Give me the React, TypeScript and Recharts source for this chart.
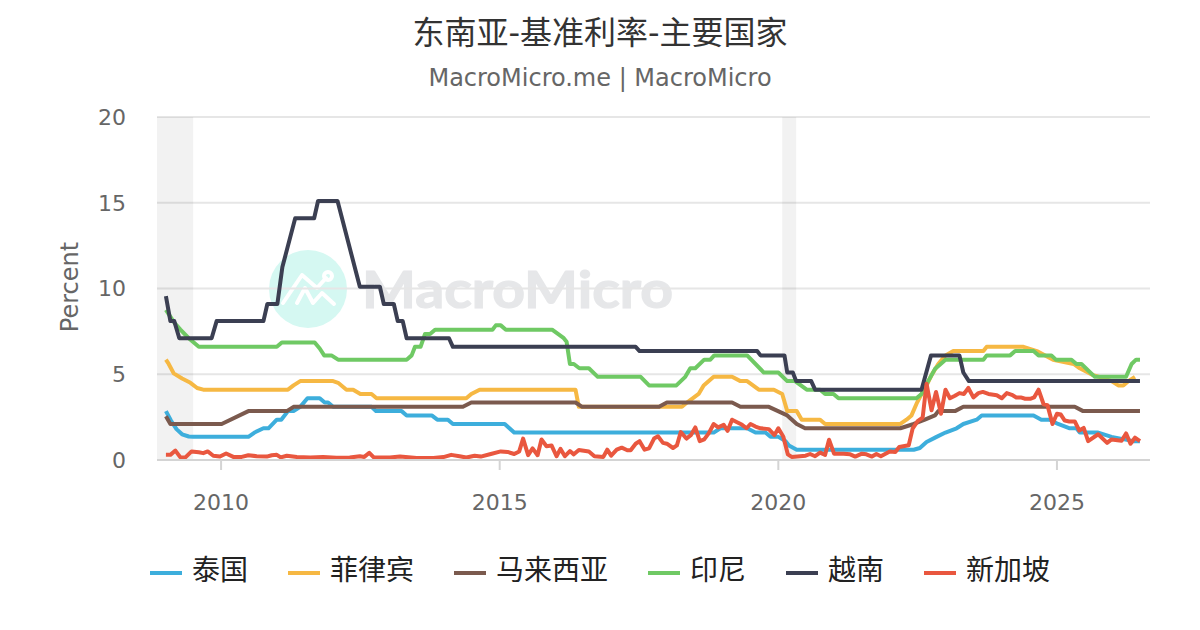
import React from 'react';
import { LineChart, Line, XAxis, YAxis, CartesianGrid, ReferenceArea, Legend } from 'recharts';

const TITLE = '东南亚-基准利率-主要国家';
const SUBTITLE = 'MacroMicro.me | MacroMicro';
const Y_LABEL = 'Percent';
const xTicks = [2010, 2015, 2020, 2025];
const yTicks = [0, 5, 10, 15, 20];
const recessions = [[2008.85, 2009.5], [2020.07, 2020.32]];

const thailand = [[2009.01,2.85],[2009.1,2.3],[2009.2,1.8],[2009.3,1.5],[2009.42,1.37],[2009.5,1.35],[2010.49,1.35],[2010.6,1.6],[2010.76,1.85],[2010.85,1.85],[2011.0,2.35],[2011.08,2.35],[2011.2,2.85],[2011.3,2.85],[2011.42,3.1],[2011.55,3.6],[2011.77,3.6],[2011.86,3.35],[2011.92,3.35],[2012.01,3.1],[2012.7,3.1],[2012.78,2.85],[2013.24,2.85],[2013.33,2.6],[2013.78,2.6],[2013.88,2.35],[2014.07,2.35],[2014.16,2.1],[2015.09,2.1],[2015.26,1.6],[2018.84,1.6],[2018.96,1.85],[2019.44,1.85],[2019.59,1.6],[2019.77,1.6],[2019.86,1.35],[2020.0,1.35],[2020.13,1.1],[2020.19,0.85],[2020.33,0.6],[2022.43,0.6],[2022.54,0.7],[2022.66,1.05],[2022.84,1.35],[2023.0,1.6],[2023.2,1.85],[2023.32,2.1],[2023.56,2.35],[2023.65,2.6],[2024.58,2.6],[2024.72,2.35],[2024.87,2.35],[2025.02,2.1],[2025.23,1.85],[2025.35,1.85],[2025.41,1.6],[2025.74,1.6],[2025.98,1.35],[2026.37,1.1],[2026.49,1.1]];
const philippines = [[2009.01,5.85],[2009.06,5.6],[2009.15,5.05],[2009.3,4.75],[2009.45,4.5],[2009.57,4.2],[2009.68,4.1],[2011.2,4.1],[2011.3,4.35],[2011.42,4.6],[2012.01,4.6],[2012.1,4.5],[2012.25,4.1],[2012.37,4.1],[2012.5,3.85],[2012.7,3.85],[2012.79,3.6],[2014.4,3.6],[2014.49,3.85],[2014.64,4.1],[2016.36,4.1],[2016.42,3.1],[2018.27,3.1],[2018.36,3.35],[2018.57,3.85],[2018.66,4.35],[2018.84,4.85],[2019.17,4.85],[2019.32,4.6],[2019.44,4.6],[2019.65,4.1],[2019.92,4.1],[2020.07,3.85],[2020.16,2.85],[2020.33,2.85],[2020.42,2.35],[2020.75,2.35],[2020.84,2.1],[2022.19,2.1],[2022.3,2.35],[2022.39,2.6],[2022.49,3.35],[2022.57,3.85],[2022.66,4.35],[2022.75,4.95],[2022.87,5.6],[2023.0,6.1],[2023.14,6.35],[2023.68,6.35],[2023.74,6.6],[2024.4,6.6],[2024.64,6.35],[2024.93,5.85],[2025.3,5.6],[2025.41,5.35],[2025.65,4.95],[2025.76,4.85],[2025.98,4.6],[2026.1,4.35],[2026.19,4.35],[2026.28,4.6],[2026.4,4.85]];
const malaysia = [[2009.01,2.55],[2009.09,2.1],[2010.01,2.1],[2010.49,2.85],[2011.18,2.85],[2011.3,3.1],[2014.34,3.1],[2014.49,3.35],[2016.36,3.35],[2016.48,3.1],[2017.86,3.1],[2018.0,3.35],[2019.17,3.35],[2019.32,3.1],[2019.83,3.1],[2020.16,2.6],[2020.33,2.1],[2020.48,1.85],[2022.19,1.85],[2022.43,2.1],[2022.63,2.35],[2022.81,2.6],[2022.87,2.85],[2023.17,2.85],[2023.32,3.1],[2025.32,3.1],[2025.47,2.85],[2026.49,2.85]];
const indonesia = [[2009.01,8.75],[2009.15,8.05],[2009.27,7.6],[2009.42,7.1],[2009.6,6.6],[2011.0,6.6],[2011.09,6.85],[2011.68,6.85],[2011.77,6.5],[2011.85,6.1],[2011.98,6.1],[2012.1,5.85],[2013.33,5.85],[2013.42,6.1],[2013.48,6.6],[2013.58,6.6],[2013.66,7.35],[2013.75,7.35],[2013.84,7.6],[2014.87,7.6],[2014.93,7.85],[2015.02,7.85],[2015.11,7.6],[2015.94,7.6],[2016.15,7.1],[2016.2,6.9],[2016.26,5.6],[2016.33,5.6],[2016.43,5.35],[2016.6,5.35],[2016.76,4.85],[2017.53,4.85],[2017.68,4.35],[2018.17,4.35],[2018.33,4.85],[2018.42,5.35],[2018.51,5.35],[2018.67,5.85],[2018.78,5.85],[2018.85,6.1],[2019.44,6.1],[2019.74,5.1],[2020.0,5.1],[2020.16,4.6],[2020.3,4.6],[2020.51,4.1],[2020.75,4.1],[2020.84,3.85],[2020.99,3.85],[2021.08,3.6],[2022.48,3.6],[2022.57,3.85],[2022.69,4.6],[2022.81,5.3],[2023.0,5.85],[2023.68,5.85],[2023.74,6.1],[2024.16,6.1],[2024.25,6.35],[2024.58,6.35],[2024.67,6.1],[2024.9,6.1],[2024.98,5.85],[2025.26,5.85],[2025.35,5.6],[2025.44,5.6],[2025.68,4.85],[2026.24,4.85],[2026.34,5.6],[2026.42,5.85],[2026.49,5.85]];
const vietnam = [[2009.01,9.55],[2009.09,8.1],[2009.16,8.1],[2009.25,7.1],[2009.83,7.1],[2009.92,8.1],[2010.76,8.1],[2010.83,9.1],[2011.01,9.1],[2011.1,11.25],[2011.33,14.1],[2011.67,14.1],[2011.74,15.1],[2012.09,15.1],[2012.49,10.1],[2012.85,10.1],[2012.92,9.1],[2013.1,9.1],[2013.17,8.1],[2013.26,8.1],[2013.33,7.1],[2014.09,7.1],[2014.16,6.6],[2017.44,6.6],[2017.51,6.35],[2019.62,6.35],[2019.68,6.1],[2020.11,6.1],[2020.16,5.1],[2020.26,5.1],[2020.32,4.6],[2020.59,4.6],[2020.66,4.1],[2022.57,4.1],[2022.74,6.1],[2023.25,6.1],[2023.32,5.1],[2023.42,4.6],[2026.49,4.6]];
const singapore = [[2009.01,0.3],[2009.09,0.3],[2009.18,0.55],[2009.27,0.15],[2009.36,0.15],[2009.47,0.5],[2009.6,0.45],[2009.68,0.4],[2009.76,0.5],[2009.86,0.25],[2009.98,0.2],[2010.09,0.38],[2010.22,0.18],[2010.37,0.18],[2010.49,0.28],[2010.64,0.22],[2010.82,0.2],[2010.91,0.28],[2011.0,0.3],[2011.07,0.15],[2011.18,0.25],[2011.36,0.18],[2011.6,0.14],[2011.83,0.17],[2012.07,0.13],[2012.31,0.14],[2012.49,0.22],[2012.57,0.18],[2012.66,0.42],[2012.74,0.15],[2013.03,0.14],[2013.21,0.2],[2013.51,0.12],[2013.81,0.12],[2013.99,0.17],[2014.13,0.3],[2014.28,0.22],[2014.4,0.15],[2014.55,0.25],[2014.66,0.2],[2014.84,0.35],[2015.02,0.5],[2015.14,0.47],[2015.26,0.35],[2015.35,0.5],[2015.42,1.25],[2015.51,0.28],[2015.59,0.68],[2015.68,0.28],[2015.75,1.2],[2015.84,0.8],[2015.93,0.85],[2016.02,0.22],[2016.09,0.65],[2016.17,0.22],[2016.26,0.52],[2016.33,0.33],[2016.42,0.58],[2016.6,0.5],[2016.7,0.22],[2016.86,0.18],[2016.93,0.6],[2017.0,0.25],[2017.1,0.6],[2017.19,0.72],[2017.29,0.57],[2017.35,0.57],[2017.44,0.95],[2017.51,1.1],[2017.6,0.6],[2017.68,0.68],[2017.77,1.25],[2017.84,1.38],[2017.93,1.0],[2018.0,0.95],[2018.11,0.7],[2018.18,0.85],[2018.25,1.63],[2018.35,1.25],[2018.43,1.45],[2018.51,1.9],[2018.59,1.1],[2018.67,1.2],[2018.75,1.55],[2018.84,2.1],[2018.92,1.9],[2019.02,2.05],[2019.09,1.7],[2019.17,2.35],[2019.26,2.2],[2019.35,2.05],[2019.43,1.85],[2019.5,2.1],[2019.59,1.95],[2019.68,1.85],[2019.83,1.8],[2019.93,1.45],[2020.0,1.85],[2020.09,1.35],[2020.17,0.33],[2020.24,0.18],[2020.39,0.22],[2020.49,0.25],[2020.57,0.35],[2020.66,0.22],[2020.75,0.43],[2020.84,0.3],[2020.91,1.18],[2021.0,0.37],[2021.17,0.37],[2021.29,0.33],[2021.38,0.2],[2021.5,0.37],[2021.58,0.33],[2021.68,0.2],[2021.76,0.35],[2021.84,0.22],[2022.0,0.5],[2022.1,0.47],[2022.17,0.76],[2022.34,0.86],[2022.41,1.83],[2022.5,2.26],[2022.59,2.47],[2022.66,4.45],[2022.75,2.9],[2022.83,3.97],[2022.92,2.7],[2023.0,4.1],[2023.08,3.6],[2023.17,3.75],[2023.25,3.9],[2023.33,3.85],[2023.41,4.2],[2023.5,3.65],[2023.59,3.9],[2023.67,3.97],[2023.77,3.85],[2023.92,3.78],[2024.01,3.6],[2024.1,3.9],[2024.19,3.8],[2024.27,3.65],[2024.35,3.65],[2024.43,3.57],[2024.52,3.57],[2024.59,3.65],[2024.67,4.1],[2024.76,3.25],[2024.83,3.2],[2024.92,2.1],[2025.0,2.7],[2025.07,2.65],[2025.14,2.3],[2025.22,2.25],[2025.32,2.25],[2025.4,1.72],[2025.48,1.87],[2025.56,1.1],[2025.74,1.5],[2025.9,1.0],[2025.98,1.2],[2026.16,1.12],[2026.24,1.55],[2026.32,0.95],[2026.4,1.3],[2026.49,1.1]];

const seriesList = [
  { name: '泰国', color: '#3DAEDC', values: thailand },
  { name: '菲律宾', color: '#F6B843', values: philippines },
  { name: '马来西亚', color: '#7B5A4E', values: malaysia },
  { name: '印尼', color: '#6FC964', values: indonesia },
  { name: '越南', color: '#3B3F52', values: vietnam },
  { name: '新加坡', color: '#E9573F', values: singapore },
];

const toRows = (pairs: number[][]) => pairs.map(([t, v]) => ({ t, v }));
const FONT = '"DejaVu Sans", "Noto Sans CJK SC", sans-serif';

function LegendRow() {
  return (
    <div style={{ display: 'flex', alignItems: 'center', fontFamily: FONT, fontSize: 28, color: '#222', lineHeight: '40px' }}>
      {seriesList.map((s) => (
        <div key={s.name} style={{ display: 'flex', alignItems: 'center', marginRight: 40 }}>
          <span style={{ display: 'inline-block', width: 32, height: 4, background: s.color, marginRight: 10, position: 'relative', top: 2 }} />
          <span>{s.name}</span>
        </div>
      ))}
    </div>
  );
}

export default function App() {
  return (
    <div style={{ position: 'absolute', left: 0, top: 0, width: 1200, height: 630, background: '#fff', overflow: 'hidden' }}>
      <svg width={1200} height={630} style={{ position: 'absolute', left: 0, top: 0 }}>
        <text x={600} y={44} textAnchor="middle" fontSize={32} fill="#333" fontFamily={FONT}>{TITLE}</text>
        <text x={600} y={86} textAnchor="middle" fontSize={24} fill="#666" fontFamily={FONT}>{SUBTITLE}</text>
        <text x={0} y={0} transform="translate(78,287) rotate(-90)" textAnchor="middle" fontSize={24} fill="#666" fontFamily={FONT}>{Y_LABEL}</text>
        <circle cx={308} cy={289} r={39} fill="#D5F8F2" />
        <g fill="none" stroke="#fff" strokeWidth={4} strokeLinecap="round" strokeLinejoin="round">
          <polyline points="283,303 302,275 317,288 326,278" />
          <polyline points="297,303 305,288 313,303 322,293 334,304" />
          <circle cx={328} cy={276} r={4} />
        </g>
        <text x={362} y={308} fontSize={52} fontWeight={700} fill="#E6E7E9" stroke="#E6E7E9" strokeWidth={1.2} fontFamily="Lato, sans-serif" textLength={311} lengthAdjust="spacingAndGlyphs">MacroMicro</text>
      </svg>
      <LineChart
        width={1200}
        height={630}
        style={{ position: 'absolute', left: 0, top: 0 }}
        margin={{ top: 117, right: 50, bottom: 72, left: 97 }}
      >
        <CartesianGrid horizontal vertical={false} stroke="#E6E6E6" strokeWidth={2} />
        {recessions.map(([a, b]) => (
          <ReferenceArea key={a} x1={a} x2={b} fill="#000" fillOpacity={0.05} stroke="none" ifOverflow="hidden" />
        ))}
        <XAxis
          type="number"
          dataKey="t"
          domain={[2008.85, 2026.67]}
          ticks={xTicks}
          allowDataOverflow
          tickSize={10}
          tickMargin={24}
          height={58}
          stroke="#D4D4D4"
          strokeWidth={2}
          tick={{ fill: '#666', fontSize: 22, fontFamily: FONT }}
        />
        <YAxis
          type="number"
          domain={[0, 20]}
          ticks={yTicks}
          width={60}
          axisLine={false}
          tickLine={false}
          tickMargin={25}
          tick={{ fill: '#666', fontSize: 22, fontFamily: FONT }}
        />
        <Legend
          content={<LegendRow />}
          layout="horizontal"
          verticalAlign="bottom"
          align="left"
          wrapperStyle={{ position: 'absolute', left: 150, top: 551, width: 1000 }}
        />
        {seriesList.map((s) => (
          <Line
            key={s.name}
            data={toRows(s.values)}
            dataKey="v"
            name={s.name}
            type="linear"
            stroke={s.color}
            strokeWidth={4}
            dot={false}
            activeDot={false}
            isAnimationActive={false}
            strokeLinejoin="round"
          />
        ))}
      </LineChart>
    </div>
  );
}
